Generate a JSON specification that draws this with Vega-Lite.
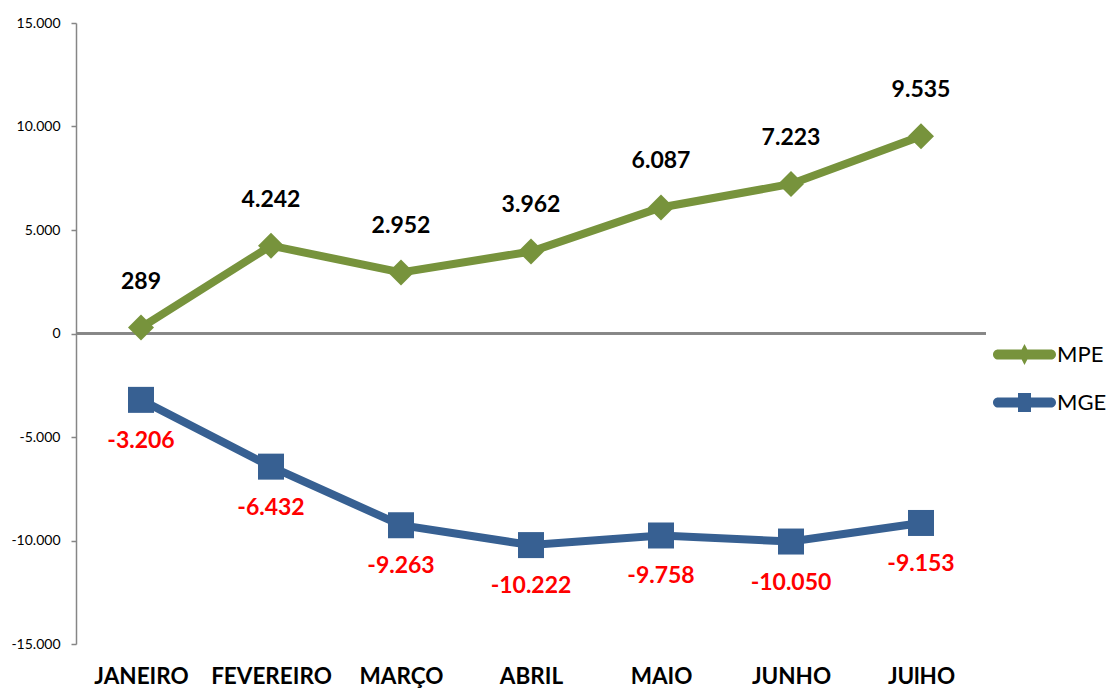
{
  "$schema": "https://vega.github.io/schema/vega-lite/v6.json",
  "width": 910,
  "height": 621,
  "autosize": {"type": "none"},
  "padding": {"left": 76, "top": 23, "right": 124, "bottom": 44},
  "config": {
    "locale": {"number": {"decimal": ",", "thousands": ".", "grouping": [3], "currency": ["", ""], "minus": "-"}},
    "view": {"stroke": null},
    "font": "Lato"
  },
  "data": {
    "values": [
      {"mes": "JANEIRO", "serie": "MPE", "valor": 289},
      {"mes": "FEVEREIRO", "serie": "MPE", "valor": 4242},
      {"mes": "MARÇO", "serie": "MPE", "valor": 2952},
      {"mes": "ABRIL", "serie": "MPE", "valor": 3962},
      {"mes": "MAIO", "serie": "MPE", "valor": 6087},
      {"mes": "JUNHO", "serie": "MPE", "valor": 7223},
      {"mes": "JUlHO", "serie": "MPE", "valor": 9535},
      {"mes": "JANEIRO", "serie": "MGE", "valor": -3206},
      {"mes": "FEVEREIRO", "serie": "MGE", "valor": -6432},
      {"mes": "MARÇO", "serie": "MGE", "valor": -9263},
      {"mes": "ABRIL", "serie": "MGE", "valor": -10222},
      {"mes": "MAIO", "serie": "MGE", "valor": -9758},
      {"mes": "JUNHO", "serie": "MGE", "valor": -10050},
      {"mes": "JUlHO", "serie": "MGE", "valor": -9153}
    ]
  },
  "layer": [
    {
      "mark": {"type": "rule", "color": "#868686", "strokeWidth": 1.5},
      "encoding": {
        "y": {"datum": 0, "type": "quantitative", "scale": {"domain": [-15000, 15000], "nice": false}}
      }
    },
    {
      "mark": {"type": "line", "strokeWidth": 8},
      "encoding": {
        "x": {"field": "mes", "type": "nominal", "sort": ["JANEIRO", "FEVEREIRO", "MARÇO", "ABRIL", "MAIO", "JUNHO", "JUlHO"],
              "axis": {"title": null, "domain": false, "ticks": false, "labelAngle": 0, "labelFontSize": 22.5, "labelFontWeight": "bold", "labelColor": "#000000", "labelPadding": 21}},
        "y": {"field": "valor", "type": "quantitative", "scale": {"domain": [-15000, 15000], "nice": false},
              "axis": {"title": null, "values": [-15000, -10000, -5000, 0, 5000, 10000, 15000], "format": ",d", "grid": false,
                       "domainColor": "#868686", "domainWidth": 1.5, "tickColor": "#868686", "tickWidth": 1.5, "tickSize": 5,
                       "labelFontSize": 14, "labelColor": "#000000", "labelPadding": 11}},
        "color": {"field": "serie", "type": "nominal",
                  "scale": {"domain": ["MPE", "MGE"], "range": ["#77933C", "#376092"]},
                  "legend": {"title": null, "orient": "none", "legendX": 917, "legendY": 300, "padding": 0,
                             "symbolSize": 3969, "labelFontSize": 22, "labelColor": "#000000", "labelOffset": 1, "rowPadding": 5,
                             "encode": {"symbols": {"update": {
                               "shape": {"signal": "datum.value === 'MPE' ? 'M-0.84,-0.16L-0.09,-0.16L0,-0.33L0.09,-0.16L0.84,-0.16A0.16,0.16 0 0 1 0.84,0.16L0.09,0.16L0,0.33L-0.09,0.16L-0.84,0.16A0.16,0.16 0 0 1 -0.84,-0.16Z' : 'M-0.84,-0.16L-0.206,-0.16L-0.206,-0.3L0.206,-0.3L0.206,-0.16L0.84,-0.16A0.16,0.16 0 0 1 0.84,0.16L0.206,0.16L0.206,0.3L-0.206,0.3L-0.206,0.16L-0.84,0.16A0.16,0.16 0 0 1 -0.84,-0.16Z'"},
                               "fill": {"signal": "datum.value === 'MPE' ? '#77933C' : '#376092'"},
                               "fillOpacity": {"value": 1},
                               "strokeWidth": {"value": 0}
                             }}}}}
      }
    },
    {
      "transform": [{"filter": "datum.serie === 'MPE'"}],
      "mark": {"type": "point", "filled": true, "opacity": 1, "size": 676, "shape": "diamond", "color": "#77933C"},
      "encoding": {
        "x": {"field": "mes", "type": "nominal", "sort": ["JANEIRO", "FEVEREIRO", "MARÇO", "ABRIL", "MAIO", "JUNHO", "JUlHO"]},
        "y": {"field": "valor", "type": "quantitative"}
      }
    },
    {
      "transform": [{"filter": "datum.serie === 'MGE'"}],
      "mark": {"type": "point", "filled": true, "opacity": 1, "size": 676, "shape": "square", "color": "#376092"},
      "encoding": {
        "x": {"field": "mes", "type": "nominal", "sort": ["JANEIRO", "FEVEREIRO", "MARÇO", "ABRIL", "MAIO", "JUNHO", "JUlHO"]},
        "y": {"field": "valor", "type": "quantitative"}
      }
    },
    {
      "transform": [{"filter": "datum.serie === 'MPE'"}],
      "mark": {"type": "text", "dy": -46, "fontSize": 23, "fontWeight": "bold", "color": "#000000", "baseline": "middle"},
      "encoding": {
        "x": {"field": "mes", "type": "nominal", "sort": ["JANEIRO", "FEVEREIRO", "MARÇO", "ABRIL", "MAIO", "JUNHO", "JUlHO"]},
        "y": {"field": "valor", "type": "quantitative"},
        "text": {"field": "valor", "type": "quantitative", "format": ",d"}
      }
    },
    {
      "transform": [{"filter": "datum.serie === 'MGE'"}],
      "mark": {"type": "text", "dy": 41, "fontSize": 23, "fontWeight": "bold", "color": "#FF0000", "baseline": "middle"},
      "encoding": {
        "x": {"field": "mes", "type": "nominal", "sort": ["JANEIRO", "FEVEREIRO", "MARÇO", "ABRIL", "MAIO", "JUNHO", "JUlHO"]},
        "y": {"field": "valor", "type": "quantitative"},
        "text": {"field": "valor", "type": "quantitative", "format": ",d"}
      }
    }
  ]
}
